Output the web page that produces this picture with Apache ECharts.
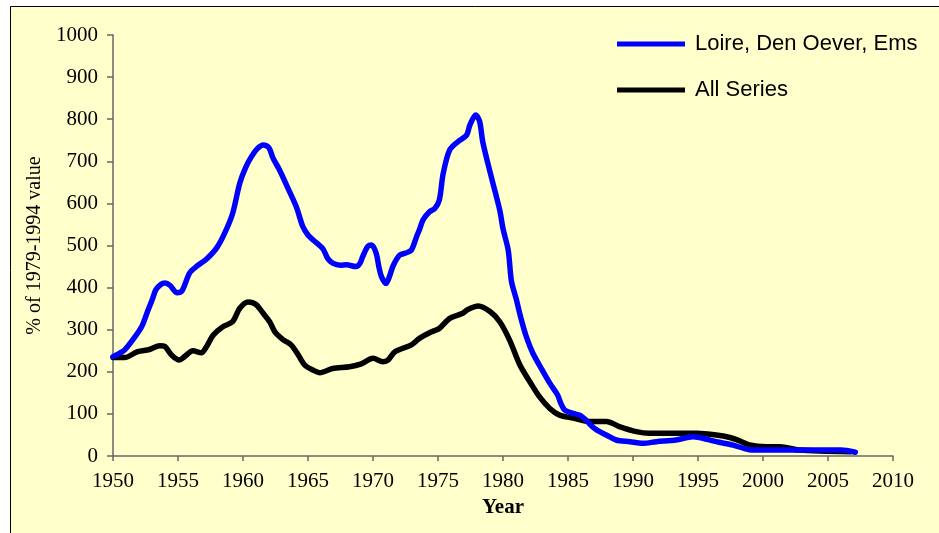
<!DOCTYPE html>
<html>
<head>
<meta charset="utf-8">
<script src="https://cdn.jsdelivr.net/npm/echarts@6/dist/echarts.min.js"></script>
<style>
  html, body { margin: 0; padding: 0; background: #ffffff; }
  #chart { width: 939px; height: 533px; }
</style>
</head>
<body>
<div id="chart"></div>
<script>
// Index values (% of the 1979-1994 mean) by year
const loireYears = [1950.0, 1950.5, 1950.9, 1951.5, 1952.2, 1952.7, 1953.0, 1953.3, 1953.7, 1954.0,
  1954.4, 1954.9, 1955.3, 1955.9, 1956.5, 1957.2, 1957.95, 1958.6, 1959.2, 1959.75,
  1960.2, 1960.65, 1961.1, 1961.55, 1962.0, 1962.3, 1962.8, 1963.4, 1964.1, 1964.6,
  1965.0, 1965.4, 1966.15, 1966.5, 1966.9, 1967.5, 1967.95, 1968.7, 1969.0, 1969.2,
  1969.6, 1969.9, 1970.25, 1970.45, 1970.65, 1971.0, 1971.25, 1971.55, 1972.05, 1972.5,
  1972.95, 1973.35, 1973.6, 1973.85, 1974.35, 1974.75, 1975.1, 1975.4, 1975.9, 1976.55,
  1977.2, 1977.45, 1977.9, 1978.2, 1978.45, 1979.1, 1979.75, 1980.0, 1980.4, 1980.65,
  1981.0, 1981.4, 1981.8, 1982.3, 1983.0, 1983.6, 1984.2, 1984.45, 1984.75, 1985.4, 1985.9,
  1986.4, 1986.8, 1987.2, 1987.95, 1988.7, 1989.75, 1990.75, 1991.8, 1993.3, 1994.6,
  1995.1, 1996.4, 1997.7, 1998.95, 2000.0, 2002.0, 2004.0, 2006.0, 2007.1];
const loireValues = [236, 244, 252, 275, 307, 347, 370, 395, 408, 411,
  405, 388, 392, 435, 452, 468, 493, 530, 576, 648,
  685, 711, 730, 739, 732, 708, 680, 640, 592, 545,
  525, 513, 492, 470, 458, 453, 454, 450, 458, 473,
  498, 501, 481, 450, 426, 410, 425, 452, 477, 482,
  489, 521, 540, 561, 580, 588, 608, 671, 727, 747,
  762, 786, 810, 795, 745, 663, 584, 540, 489, 415,
  375, 325, 283, 244, 205, 173, 145, 125, 109, 101, 97,
  85, 72, 62, 50, 38, 34, 30, 34, 38, 46,
  44, 34, 26, 15, 14, 14, 14, 14, 9];

const allYears = [1950.0, 1950.9, 1951.9, 1952.8, 1953.6, 1954.0, 1954.5, 1955.1, 1955.5, 1956.15,
  1956.8, 1957.2, 1957.7, 1958.45, 1959.2, 1959.75, 1960.4, 1961.0, 1961.55, 1962.05,
  1962.45, 1963.1, 1963.7, 1964.25, 1964.75, 1965.4, 1965.9, 1966.9, 1968.2, 1969.1,
  1970.0, 1970.75, 1971.15, 1971.7, 1972.95, 1973.6, 1974.5, 1975.1, 1975.9, 1976.9,
  1977.3, 1978.1, 1979.0, 1979.75, 1980.5, 1981.3, 1982.05, 1982.8, 1983.6, 1984.35,
  1985.4, 1986.65, 1987.95, 1988.95, 1990.25, 1991.25, 1994.9, 1996.4, 1997.45, 1998.2,
  1998.95, 2000.25, 2001.3, 2002.8, 2006.7];
const allValues = [234, 234, 248, 253, 262, 260, 240, 228, 236, 250,
  245, 260, 287, 307, 319, 351, 366, 360, 339, 319,
  295, 276, 264, 240, 216, 204, 198, 208, 212, 219,
  232, 224, 228, 248, 264, 280, 295, 303, 327, 339,
  348, 356, 343, 319, 276, 216, 177, 141, 113, 97,
  90, 82, 82, 70, 58, 54, 54, 50, 44, 36,
  26, 22, 22, 14, 10];

const seriesNames = ['Loire, Den Oever, Ems', 'All Series'];
const xAxisTitle = 'Year';
const yAxisTitle = '% of 1979-1994 value';

function pairs(xs, ys) {
  return xs.map((x, i) => [x, ys[i]]);
}

const serif = '"Liberation Serif", "Times New Roman", serif';
const sans = '"Liberation Sans", Arial, sans-serif';
const plain = v => String(v);

const chart = echarts.init(document.getElementById('chart'), null, { renderer: 'canvas' });
chart.setOption({
  backgroundColor: '#ffffff',
  animation: false,
  graphic: [{
    type: 'rect',
    z: -10,
    shape: { x: 10.5, y: 6.5, width: 940, height: 540 },
    style: { fill: '#FFFFCC', stroke: '#000000', lineWidth: 1 }
  }],
  grid: { left: 113, right: 46, top: 35, bottom: 77 },
  legend: {
    orient: 'vertical',
    left: 617,
    top: 33,
    padding: 0,
    itemWidth: 68,
    itemHeight: 5,
    itemGap: 24,
    icon: 'rect',
    textStyle: { fontFamily: sans, fontSize: 22, color: '#000000', padding: [0, 0, 0, 5] },
    data: seriesNames
  },
  xAxis: {
    type: 'value',
    min: 1950,
    max: 2010,
    interval: 5,
    name: xAxisTitle,
    nameLocation: 'middle',
    nameGap: 40,
    nameTextStyle: { fontFamily: serif, fontSize: 21, fontWeight: 'bold', color: '#000000' },
    splitLine: { show: false },
    axisLine: { lineStyle: { color: '#666666', width: 1.5 } },
    axisTick: { length: 5, lineStyle: { color: '#666666', width: 1.5 } },
    axisLabel: { fontFamily: serif, fontSize: 21, color: '#000000', margin: 15, formatter: plain }
  },
  yAxis: {
    type: 'value',
    min: 0,
    max: 1000,
    interval: 100,
    name: yAxisTitle,
    nameLocation: 'middle',
    nameGap: 56,
    nameTextStyle: { fontFamily: serif, fontSize: 20, color: '#000000' },
    splitLine: { show: false },
    axisLine: { show: true, lineStyle: { color: '#666666', width: 1.5 } },
    axisTick: { show: true, length: 6, lineStyle: { color: '#666666', width: 1.5 } },
    axisLabel: { fontFamily: serif, fontSize: 21, color: '#000000', margin: 15, formatter: plain }
  },
  series: [
    {
      name: seriesNames[0],
      type: 'line',
      data: pairs(loireYears, loireValues),
      smooth: 0.3,
      symbol: 'none',
      z: 3,
      color: '#0000FF',
      lineStyle: { color: '#0000FF', width: 5.5, cap: 'round', join: 'round' }
    },
    {
      name: seriesNames[1],
      type: 'line',
      data: pairs(allYears, allValues),
      smooth: 0.3,
      symbol: 'none',
      z: 2,
      color: '#000000',
      lineStyle: { color: '#000000', width: 5.5, cap: 'round', join: 'round' }
    }
  ]
});
</script>
</body>
</html>
